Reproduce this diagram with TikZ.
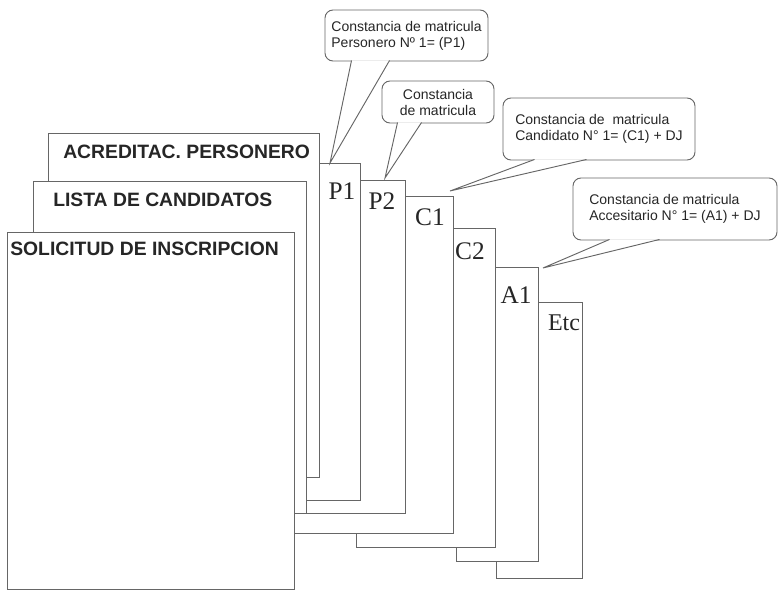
\documentclass[tikz,border=0pt]{standalone}
\usepackage{fontspec}
\setmainfont{Liberation Serif}
\newfontfamily\arial{Liberation Sans}
\usetikzlibrary{calc,fit}

\tikzset{
	hoja/.style={draw=black!60, fill=white, line width=0.7pt, inner sep=0pt},
	titulo/.style={anchor=west, inner sep=0pt, text=black!85, font=\arial\bfseries\fontsize{14.5}{16}\selectfont},
	etiqueta/.style={inner sep=0pt, text=black!85, font=\fontsize{19}{21}\selectfont},
	globo/.style={draw=black!60, fill=white, rounded corners=6pt, line width=0.7pt, align=left, inner sep=0pt, text=black!85, font=\arial\fontsize{10.5}{12}\selectfont},
	pico/.style={draw=black!60, fill=white, line width=0.7pt}
}

% pico del globo: nodo, base izquierda, base derecha, punta
\newcommand{\pico}[4]{%
	\filldraw[pico] ($(#1.south west)+(#2,-1)$) -- (#4) -- ($(#1.south west)+(#3,-1)$);}

\begin{document}
\begin{tikzpicture}[x=0.75pt, y=-0.75pt]
	\useasboundingbox (0,0) rectangle (779,592);

	% Las hojas se dibujan de atras hacia adelante
	\node[hoja, fit={(496,302) (582,578)}] (etc) {};
	\node[etiqueta, font=\fontsize{18}{20}\selectfont] (lEtc) at (564,323) {Etc};

	\node[hoja, fit={(456,267) (538,561)}] (a1) {};
	\node[etiqueta] (lA1) at (516,295) {A1};

	\node[hoja, fit={(356,228) (495,547)}] (c2) {};
	\node[etiqueta] (lC2) at (470,251) {C2};

	\node[hoja, fit={(200,196) (453,533)}] (c1) {};
	\node[etiqueta] (lC1) at (430,217) {C1};

	\node[hoja, fit={(190,180) (405,513)}] (p2) {};
	\node[etiqueta] (lP2) at (382,201) {P2};

	\node[hoja, fit={(180,163) (360,500)}] (p1) {};
	\node[etiqueta] (lP1) at (342,191) {P1};

	% Hojas principales
	\node[hoja, fit={(48,133) (319,477)}] (acred) {};
	\node[titulo] (tAcred) at (63,152) {ACREDITAC. PERSONERO};

	\node[hoja, fit={(33,181) (306,513)}] (lista) {};
	\node[titulo] (tLista) at (53,200) {LISTA DE CANDIDATOS};

	\node[hoja, fit={(7,232) (294,589)}] (solic) {};
	\node[titulo] (tSolic) at (10,249) {SOLICITUD DE INSCRIPCION};

	% Puntas de los globos
	\coordinate (kP1) at (330,163);
	\coordinate (kP2) at (385,178);
	\coordinate (kC1) at (450,191);
	\coordinate (kA1) at (543,268);

	% Globos
	\node[globo, minimum width=122.25pt, minimum height=38.25pt] (gP1) at (406.5,35.5) {Constancia de matricula\\Personero Nº 1= (P1)};
	\pico{gP1}{27}{65}{kP1}

	\node[globo, align=center, minimum width=84pt, minimum height=31.5pt] (gP2) at (438,102) {Constancia\\de matricula};
	\pico{gP2}{16}{40}{kP2}

	\node[globo, minimum width=144pt, minimum height=46.5pt] (gC1) at (599,129) {Constancia de\ \ matricula\\Candidato N° 1= (C1) + DJ};
	\pico{gC1}{32}{84}{kC1}

	\node[globo, minimum width=153pt, minimum height=46.5pt] (gA1) at (675,209) {Constancia de matricula\\Accesitario N° 1= (A1) + DJ};
	\pico{gA1}{37}{87}{kA1}
\end{tikzpicture}
\end{document}
